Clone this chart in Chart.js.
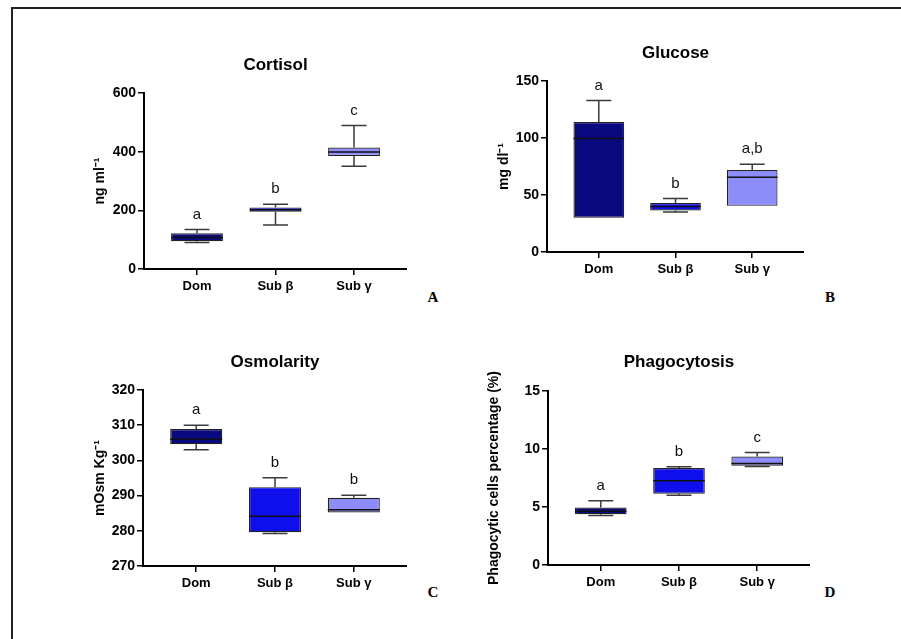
<!DOCTYPE html>
<html>
<head>
<meta charset="utf-8">
<script src="https://cdn.jsdelivr.net/npm/chart.js@4.4.0/dist/chart.umd.min.js"></script>
<style>
  body { margin: 0; width: 901px; height: 639px; background: #fff; position: relative; overflow: hidden; }
  .frame { position: absolute; left: 11px; top: 7px; right: -10px; bottom: -10px; border-left: 2px solid #222; border-top: 2px solid #222; }
  .panel { position: absolute; }
  .tag { position: absolute; font: bold 15px 'Liberation Serif', 'Times New Roman', serif; color: #000; transform: translate(-50%, -50%); }
</style>
</head>
<body>
<div class="frame"></div>
<div class="panel" style="left:74px;top:55px;width:333px;height:244px"><canvas id="cortisolChart"></canvas></div>
<div class="panel" style="left:477px;top:43px;width:327px;height:239px"><canvas id="glucoseChart"></canvas></div>
<div class="panel" style="left:73px;top:352px;width:334px;height:244px"><canvas id="osmolarityChart"></canvas></div>
<div class="panel" style="left:478px;top:352px;width:332px;height:243px"><canvas id="phagoChart"></canvas></div>
<div class="tag" style="left:433px;top:297px">A</div>
<div class="tag" style="left:830px;top:297px">B</div>
<div class="tag" style="left:433px;top:592px">C</div>
<div class="tag" style="left:830px;top:592px">D</div>

<script>
// groups
const groups = ['Dom', 'Sub β', 'Sub γ'];
const boxColors = ['#0a0a80', '#0f0fec', '#8c8cfa'];

// Cortisol (ng ml-1)
const cortisolMin = [90, 150, 350];
const cortisolQ1 = [95, 195, 385];
const cortisolMedian = [107, 202, 399];
const cortisolQ3 = [122, 210, 414];
const cortisolMax = [135, 221, 489];
const cortisolLetters = ['a', 'b', 'c'];
const cortisolTicks = [0, 200, 400, 600];

// Glucose (mg dl-1)
const glucoseMin = [30, 35, 40.5];
const glucoseQ1 = [30, 36.5, 40.5];
const glucoseMedian = [99.5, 40, 65.5];
const glucoseQ3 = [114, 43, 72];
const glucoseMax = [133, 47, 77];
const glucoseLetters = ['a', 'b', 'a,b'];
const glucoseTicks = [0, 50, 100, 150];

// Osmolarity (mOsm Kg-1)
const osmoMin = [303, 279.2, 285.1];
const osmoQ1 = [304.6, 279.6, 285.2];
const osmoMedian = [306, 284.1, 286];
const osmoQ3 = [308.9, 292.4, 289.4];
const osmoMax = [310, 295.1, 290.1];
const osmoLetters = ['a', 'b', 'b'];
const osmoTicks = [270, 280, 290, 300, 310, 320];

// Phagocytosis (%)
const phagoMin = [4.27, 6.01, 8.5];
const phagoQ1 = [4.38, 6.15, 8.56];
const phagoMedian = [4.64, 7.27, 8.76];
const phagoQ3 = [4.95, 8.36, 9.35];
const phagoMax = [5.53, 8.47, 9.69];
const phagoLetters = ['a', 'b', 'c'];
const phagoTicks = [0, 5, 10, 15];

const FONT = "'Liberation Sans', Arial, sans-serif";
Chart.defaults.font.family = FONT;
Chart.defaults.color = '#000';

// whiskers, median line and letters on top of the floating bars
const boxWhiskers = {
  id: 'boxWhiskers',
  afterDatasetsDraw(chart, args, opts) {
    const { ctx } = chart;
    const y = chart.scales.y;
    const meta = chart.getDatasetMeta(0);
    meta.data.forEach((bar, i) => {
      const cx = bar.x;
      const half = bar.width / 2;
      const capHalf = 12.5;
      const pMin = y.getPixelForValue(opts.min[i]);
      const pQ1 = y.getPixelForValue(opts.q1[i]);
      const pMed = y.getPixelForValue(opts.median[i]);
      const pQ3 = y.getPixelForValue(opts.q3[i]);
      const pMax = y.getPixelForValue(opts.max[i]);
      ctx.save();
      ctx.strokeStyle = '#3a3a3a';
      ctx.lineWidth = 1.5;
      ctx.beginPath();
      ctx.moveTo(cx, pQ3); ctx.lineTo(cx, pMax);
      ctx.moveTo(cx - capHalf, pMax); ctx.lineTo(cx + capHalf, pMax);
      if (pMin - pQ1 > 0.5) {
        ctx.moveTo(cx, pQ1); ctx.lineTo(cx, pMin);
        ctx.moveTo(cx - capHalf, pMin); ctx.lineTo(cx + capHalf, pMin);
      }
      ctx.stroke();
      // median
      ctx.strokeStyle = '#111';
      ctx.lineWidth = 1.5;
      ctx.beginPath();
      ctx.moveTo(cx - half, pMed); ctx.lineTo(cx + half, pMed);
      ctx.stroke();
      // significance letters
      ctx.fillStyle = '#111';
      ctx.font = '15px ' + FONT;
      ctx.textAlign = 'center';
      ctx.textBaseline = 'middle';
      ctx.fillText(opts.letters[i], cx, pMax - 15);
      ctx.restore();
    });
  }
};

function makeBoxChart(id, cfg) {
  const ctx = document.getElementById(id).getContext('2d');
  return new Chart(ctx, {
    type: 'bar',
    data: {
      datasets: [{
        data: groups.map((g, i) => ({ x: i, y: [cfg.q1[i], cfg.q3[i]] })),
        backgroundColor: boxColors,
        borderColor: '#222',
        borderWidth: 1.2,
        borderSkipped: false,
        barPercentage: 0.66,
        categoryPercentage: 1
      }]
    },
    plugins: [boxWhiskers],
    options: {
      responsive: true,
      maintainAspectRatio: false,
      animation: false,
      layout: { padding: 0 },
      plugins: {
        legend: { display: false },
        tooltip: { enabled: false },
        title: {
          display: true,
          text: cfg.title,
          fullSize: false,
          font: { size: 17, weight: 'bold' },
          color: '#000',
          padding: { top: 0, bottom: cfg.titlePad }
        },
        boxWhiskers: {
          min: cfg.min, q1: cfg.q1, median: cfg.median, q3: cfg.q3, max: cfg.max, letters: cfg.letters
        }
      },
      scales: {
        x: {
          type: 'linear',
          min: -0.675,
          max: 2.675,
          offset: false,
          afterBuildTicks: (scale) => { scale.ticks = groups.map((g, i) => ({ value: i })); },
          afterFit: (scale) => { scale.height = 30; },
          grid: { display: true, offset: false, drawOnChartArea: false, drawTicks: true, tickLength: 6, color: '#000', lineWidth: 1.5 },
          border: { display: true, color: '#000', width: 2 },
          ticks: {
            padding: 4,
            maxRotation: 0,
            autoSkip: false,
            font: { size: 13, weight: 'bold' },
            color: '#000',
            callback: (value) => groups[value]
          }
        },
        y: {
          min: cfg.ticks[0],
          max: cfg.ticks[cfg.ticks.length - 1],
          afterBuildTicks: (scale) => { scale.ticks = cfg.ticks.map(v => ({ value: v })); },
          afterFit: (scale) => { scale.width = 70; },
          grid: { display: true, drawOnChartArea: false, drawTicks: true, tickLength: 6, color: '#000', lineWidth: 1.5 },
          border: { display: true, color: '#000', width: 2 },
          ticks: { padding: 2, font: { size: 14, weight: 'bold' }, color: '#000' },
          title: {
            display: true,
            text: cfg.yTitle,
            font: { size: 14, weight: 'bold' },
            color: '#000',
            padding: { top: cfg.yTitlePad, bottom: 0 }
          }
        }
      }
    }
  });
}

makeBoxChart('cortisolChart', {
  title: 'Cortisol', yTitle: 'ng ml⁻¹', titlePad: 17.6, yTitlePad: 17.6,
  min: cortisolMin, q1: cortisolQ1, median: cortisolMedian, q3: cortisolQ3, max: cortisolMax,
  letters: cortisolLetters, ticks: cortisolTicks
});
makeBoxChart('glucoseChart', {
  title: 'Glucose', yTitle: 'mg dl⁻¹', titlePad: 17.6, yTitlePad: 18.6,
  min: glucoseMin, q1: glucoseQ1, median: glucoseMedian, q3: glucoseQ3, max: glucoseMax,
  letters: glucoseLetters, ticks: glucoseTicks
});
makeBoxChart('osmolarityChart', {
  title: 'Osmolarity', yTitle: 'mOsm Kg⁻¹', titlePad: 17.6, yTitlePad: 18.6,
  min: osmoMin, q1: osmoQ1, median: osmoMedian, q3: osmoQ3, max: osmoMax,
  letters: osmoLetters, ticks: osmoTicks
});
makeBoxChart('phagoChart', {
  title: 'Phagocytosis', yTitle: 'Phagocytic cells percentage (%)', titlePad: 18.6, yTitlePad: 7.6,
  min: phagoMin, q1: phagoQ1, median: phagoMedian, q3: phagoQ3, max: phagoMax,
  letters: phagoLetters, ticks: phagoTicks
});
</script>
</body>
</html>
